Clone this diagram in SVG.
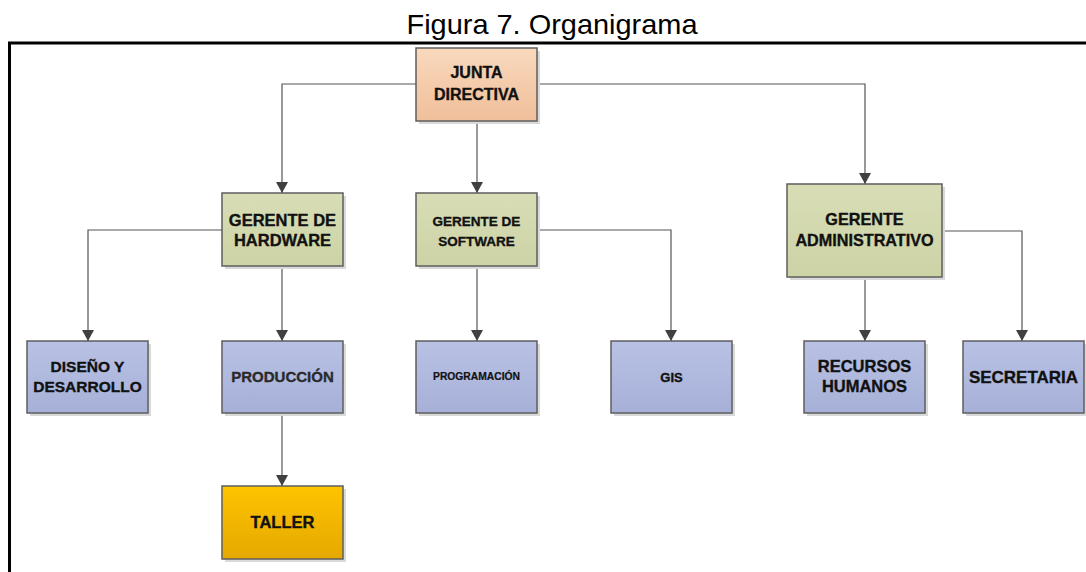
<svg xmlns="http://www.w3.org/2000/svg" width="1086" height="572" viewBox="0 0 1086 572">
  <defs>
    <linearGradient id="gPeach" x1="0" y1="0" x2="0" y2="1">
      <stop offset="0" stop-color="#f9d9bd"/>
      <stop offset="1" stop-color="#f0bf9a"/>
    </linearGradient>
    <linearGradient id="gOlive" x1="0" y1="0" x2="0" y2="1">
      <stop offset="0" stop-color="#d8ddb6"/>
      <stop offset="1" stop-color="#cdd3a5"/>
    </linearGradient>
    <linearGradient id="gBlue" x1="0" y1="0" x2="0" y2="1">
      <stop offset="0" stop-color="#b9c2e4"/>
      <stop offset="1" stop-color="#a6b0d8"/>
    </linearGradient>
    <linearGradient id="gGold" x1="0" y1="0" x2="0" y2="1">
      <stop offset="0" stop-color="#fec400"/>
      <stop offset="1" stop-color="#e5a800"/>
    </linearGradient>
    <marker id="arr" markerUnits="userSpaceOnUse" viewBox="0 0 11 12" refX="11" refY="6" markerWidth="11" markerHeight="12" orient="auto">
      <path d="M0,0 L11,6 L0,12 z" fill="#404040"/>
    </marker>
  </defs>
  <style>
    .shadow { fill: #d9d9d9; }
    .box { stroke: #5e5e5e; stroke-width: 1.5; }
    .lbl { font-family: "Liberation Sans", Arial, sans-serif; font-weight: bold; fill: #111; stroke: #111; stroke-width: 0.35; text-anchor: middle; }
    .conn { fill: none; stroke: #555; stroke-width: 1.2; }
  </style>
  <rect width="1086" height="572" fill="#fff"/>
  <text x="552" y="34" font-family="Liberation Sans, Arial, sans-serif" font-size="28" text-anchor="middle" fill="#000" textLength="291" lengthAdjust="spacingAndGlyphs">Figura 7. Organigrama</text>
  <path d="M8,43 H1086 M9.5,41.5 V572" stroke="#000" stroke-width="3" fill="none"/>

  <g id="connectors">
    <path class="conn" d="M416,84 H282 V193" marker-end="url(#arr)"/>
    <path class="conn" d="M477,121 V193" marker-end="url(#arr)"/>
    <path class="conn" d="M537,84 H865 V184" marker-end="url(#arr)"/>
    <path class="conn" d="M222,230 H88 V341" marker-end="url(#arr)"/>
    <path class="conn" d="M282,266 V341" marker-end="url(#arr)"/>
    <path class="conn" d="M477,266 V341" marker-end="url(#arr)"/>
    <path class="conn" d="M538,230 H671 V341" marker-end="url(#arr)"/>
    <path class="conn" d="M865,277 V341" marker-end="url(#arr)"/>
    <path class="conn" d="M942,231 H1022 V341" marker-end="url(#arr)"/>
    <path class="conn" d="M282,413 V486" marker-end="url(#arr)"/>
  </g>

  <g id="junta">
    <rect class="shadow" x="419" y="51" width="121" height="73"/>
    <rect class="box" x="416" y="48" width="121" height="73" fill="url(#gPeach)"/>
    <text class="lbl" x="476.5" y="78" font-size="16">JUNTA</text>
    <text class="lbl" x="476.5" y="100" font-size="16">DIRECTIVA</text>
  </g>

  <g id="gerente-hardware">
    <rect class="shadow" x="225" y="196" width="121" height="73"/>
    <rect class="box" x="222" y="193" width="121" height="73" fill="url(#gOlive)"/>
    <text class="lbl" x="282.5" y="226" font-size="16.5">GERENTE DE</text>
    <text class="lbl" x="282.5" y="246" font-size="16.5">HARDWARE</text>
  </g>

  <g id="gerente-software">
    <rect class="shadow" x="419" y="196" width="121" height="73"/>
    <rect class="box" x="416" y="193" width="121" height="73" fill="url(#gOlive)"/>
    <text class="lbl" x="476.5" y="226" font-size="13.5">GERENTE DE</text>
    <text class="lbl" x="476.5" y="246" font-size="13.5">SOFTWARE</text>
  </g>

  <g id="gerente-administrativo">
    <rect class="shadow" x="790" y="187" width="155" height="93"/>
    <rect class="box" x="787" y="184" width="155" height="93" fill="url(#gOlive)"/>
    <text class="lbl" x="864.5" y="225" font-size="16.2">GERENTE</text>
    <text class="lbl" x="864.5" y="246" font-size="16.2">ADMINISTRATIVO</text>
  </g>

  <g id="diseno">
    <rect class="shadow" x="30" y="344" width="121" height="72"/>
    <rect class="box" x="27" y="341" width="121" height="72" fill="url(#gBlue)"/>
    <text class="lbl" x="87.5" y="372" font-size="15.5">DISEÑO Y</text>
    <text class="lbl" x="87.5" y="392" font-size="15.5">DESARROLLO</text>
  </g>

  <g id="produccion">
    <rect class="shadow" x="225" y="344" width="121" height="72"/>
    <rect class="box" x="222" y="341" width="121" height="72" fill="url(#gBlue)"/>
    <text class="lbl" x="282.5" y="382" font-size="15" style="fill:#2a2a2a;stroke:#2a2a2a">PRODUCCIÓN</text>
  </g>

  <g id="programacion">
    <rect class="shadow" x="419" y="344" width="121" height="72"/>
    <rect class="box" x="416" y="341" width="121" height="72" fill="url(#gBlue)"/>
    <text class="lbl" x="476.5" y="380" font-size="10.3" style="stroke-width:0.2">PROGRAMACIÓN</text>
  </g>

  <g id="gis">
    <rect class="shadow" x="614" y="344" width="121" height="72"/>
    <rect class="box" x="611" y="341" width="121" height="72" fill="url(#gBlue)"/>
    <text class="lbl" x="671.5" y="382" font-size="13">GIS</text>
  </g>

  <g id="recursos">
    <rect class="shadow" x="807" y="344" width="121" height="72"/>
    <rect class="box" x="804" y="341" width="121" height="72" fill="url(#gBlue)"/>
    <text class="lbl" x="864.5" y="372" font-size="16.5">RECURSOS</text>
    <text class="lbl" x="864.5" y="392" font-size="16.5">HUMANOS</text>
  </g>

  <g id="secretaria">
    <rect class="shadow" x="966" y="344" width="121" height="72"/>
    <rect class="box" x="963" y="341" width="121" height="72" fill="url(#gBlue)"/>
    <text class="lbl" x="1023.5" y="383" font-size="17">SECRETARIA</text>
  </g>

  <g id="taller">
    <rect class="shadow" x="225" y="489" width="121" height="73"/>
    <rect class="box" x="222" y="486" width="121" height="73" fill="url(#gGold)"/>
    <text class="lbl" x="282.5" y="528" font-size="16.5">TALLER</text>
  </g>
</svg>
